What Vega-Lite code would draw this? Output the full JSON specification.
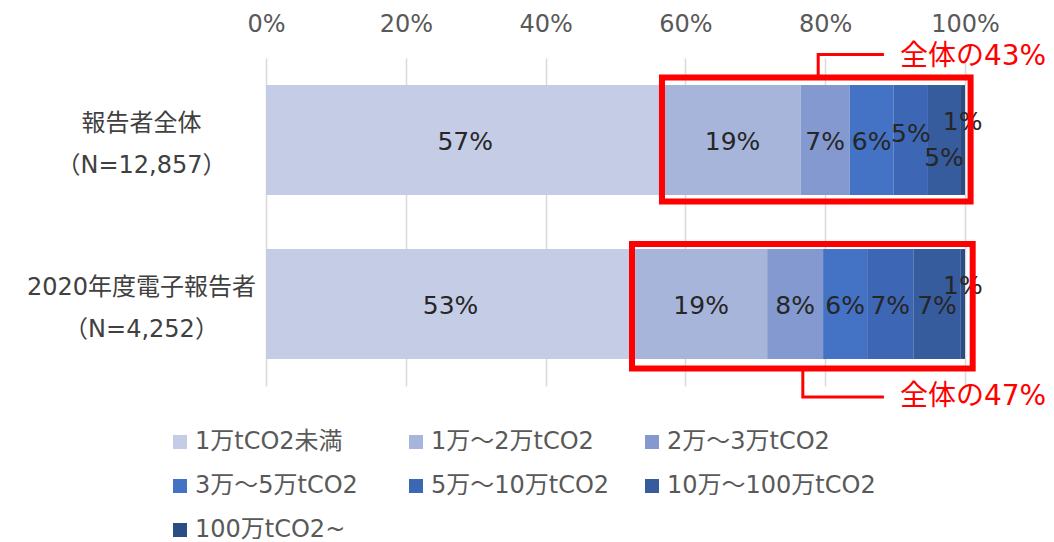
{
  "$schema": "https://vega.github.io/schema/vega-lite/v6.json",
  "autosize": {"type": "none"},
  "width": 699,
  "height": 328,
  "padding": {"left": 266, "top": 58, "right": 89, "bottom": 156},
  "background": "white",
  "config": {
    "font": "DejaVu Sans, Noto Sans CJK JP",
    "view": {"stroke": null}
  },
  "datasets": {
    "bars": [
      {"category": "報告者全体\n（N=12,857）", "series": "1万tCO2未満", "order": 1, "value": 57.0, "label": "57%"},
      {"category": "報告者全体\n（N=12,857）", "series": "1万～2万tCO2", "order": 2, "value": 19.5, "label": "19%"},
      {"category": "報告者全体\n（N=12,857）", "series": "2万～3万tCO2", "order": 3, "value": 7.0, "label": "7%"},
      {"category": "報告者全体\n（N=12,857）", "series": "3万～5万tCO2", "order": 4, "value": 6.3, "label": "6%"},
      {"category": "報告者全体\n（N=12,857）", "series": "5万～10万tCO2", "order": 5, "value": 4.9, "label": "5%"},
      {"category": "報告者全体\n（N=12,857）", "series": "10万～100万tCO2", "order": 6, "value": 4.6, "label": "5%"},
      {"category": "報告者全体\n（N=12,857）", "series": "100万tCO2~", "order": 7, "value": 0.7, "label": "1%"},
      {"category": "2020年度電子報告者\n（N=4,252）", "series": "1万tCO2未満", "order": 1, "value": 52.8, "label": "53%"},
      {"category": "2020年度電子報告者\n（N=4,252）", "series": "1万～2万tCO2", "order": 2, "value": 18.9, "label": "19%"},
      {"category": "2020年度電子報告者\n（N=4,252）", "series": "2万～3万tCO2", "order": 3, "value": 8.0, "label": "8%"},
      {"category": "2020年度電子報告者\n（N=4,252）", "series": "3万～5万tCO2", "order": 4, "value": 6.3, "label": "6%"},
      {"category": "2020年度電子報告者\n（N=4,252）", "series": "5万～10万tCO2", "order": 5, "value": 6.6, "label": "7%"},
      {"category": "2020年度電子報告者\n（N=4,252）", "series": "10万～100万tCO2", "order": 6, "value": 6.8, "label": "7%"},
      {"category": "2020年度電子報告者\n（N=4,252）", "series": "100万tCO2~", "order": 7, "value": 0.6, "label": "1%"}
    ],
    "boxes": [
      {"note": "a", "x": 56.65, "x2": 100.8, "u": 0.119, "u2": 0.875},
      {"note": "b", "x": 52.36, "x2": 101.1, "u": 1.134, "u2": 1.893}
    ],
    "leaders": [
      {"note": "a", "o": 1, "x": 79.0, "u": 0.119},
      {"note": "a", "o": 2, "x": 79.0, "u": -0.021},
      {"note": "a", "o": 3, "x": 88.4, "u": -0.021},
      {"note": "b", "o": 1, "x": 76.8, "u": 1.893},
      {"note": "b", "o": 2, "x": 76.8, "u": 2.067},
      {"note": "b", "o": 3, "x": 88.4, "u": 2.067}
    ],
    "callouts": [
      {"note": "a", "text": "全体の43%", "x": 90.7, "u": -0.005},
      {"note": "b", "text": "全体の47%", "x": 90.7, "u": 2.067}
    ]
  },
  "layer": [
    {
      "data": {"name": "bars"},
      "transform": [
        {"stack": "value", "groupby": ["category"], "sort": [{"field": "order", "order": "ascending"}], "as": ["x0", "x1"]},
        {"calculate": "(datum.x0 + datum.x1) / 2", "as": "xm"}
      ],
      "encoding": {
        "y": {
          "field": "category",
          "type": "nominal",
          "sort": null,
          "title": null,
          "scale": {"paddingInner": 0.33, "paddingOuter": 0.165},
          "axis": {
            "labelExpr": "split(datum.label, '\\n')",
            "labelAlign": "center",
            "labelBaseline": "middle",
            "labelPadding": 125,
            "labelOffset": -16,
            "labelFontSize": 24,
            "labelLineHeight": 42,
            "labelColor": "#404040",
            "labelLimit": 500,
            "ticks": false,
            "tickSize": 0,
            "domain": false,
            "grid": false
          }
        }
      },
      "layer": [
        {
          "mark": {"type": "bar"},
          "encoding": {
            "x": {
              "field": "x0",
              "type": "quantitative",
              "title": null,
              "scale": {"domain": [0, 100], "nice": false},
              "axis": {
                "orient": "top",
                "values": [0, 20, 40, 60, 80, 100],
                "labelExpr": "datum.value + '%'",
                "labelFontSize": 24,
                "labelColor": "#595959",
                "labelPadding": 22,
                "labelFlush": false,
                "labelOverlap": false,
                "ticks": false,
                "tickSize": 0,
                "domain": false,
                "grid": true,
                "gridColor": "#d9d9d9",
                "gridWidth": 1.5
              }
            },
            "x2": {"field": "x1"},
            "color": {
              "field": "series",
              "type": "nominal",
              "sort": null,
              "scale": {
                "domain": ["1万tCO2未満", "1万～2万tCO2", "2万～3万tCO2", "3万～5万tCO2", "5万～10万tCO2", "10万～100万tCO2", "100万tCO2~"],
                "range": ["#c5cde6", "#a8b5db", "#8399cf", "#4472c4", "#3d67b4", "#365c9e", "#2c4c86"]
              },
              "legend": {
                "orient": "none",
                "legendX": -98,
                "legendY": 372,
                "direction": "horizontal",
                "columns": 3,
                "title": null,
                "symbolType": "square",
                "symbolSize": 196,
                "symbolStrokeWidth": 0,
                "labelFontSize": 24,
                "labelColor": "#595959",
                "labelOffset": 3,
                "labelLimit": 400,
                "rowPadding": 20,
                "columnPadding": -4,
                "gridAlign": "all"
              }
            }
          }
        },
        {
          "transform": [{"filter": "datum.order !== 7 && !(indexof(datum.category, '報告者全体') === 0 && (datum.order === 5 || datum.order === 6))"}],
          "mark": {"type": "text", "fontSize": 25, "color": "#262626", "baseline": "middle", "align": "center", "dy": 2},
          "encoding": {
            "x": {"field": "xm", "type": "quantitative", "title": null, "scale": {"domain": [0, 100], "nice": false}},
            "text": {"field": "label"}
          }
        },
        {
          "transform": [{"filter": "indexof(datum.category, '報告者全体') === 0 && datum.order === 5"}],
          "mark": {"type": "text", "fontSize": 25, "color": "#262626", "baseline": "middle", "align": "center", "dy": -6},
          "encoding": {
            "x": {"field": "xm", "type": "quantitative", "title": null, "scale": {"domain": [0, 100], "nice": false}},
            "text": {"field": "label"}
          }
        },
        {
          "transform": [{"filter": "indexof(datum.category, '報告者全体') === 0 && datum.order === 6"}],
          "mark": {"type": "text", "fontSize": 25, "color": "#262626", "baseline": "middle", "align": "center", "dy": 18},
          "encoding": {
            "x": {"field": "xm", "type": "quantitative", "title": null, "scale": {"domain": [0, 100], "nice": false}},
            "text": {"field": "label"}
          }
        },
        {
          "transform": [{"filter": "datum.order === 7"}],
          "mark": {"type": "text", "fontSize": 25, "color": "#262626", "baseline": "middle", "align": "center", "dy": -18},
          "encoding": {
            "x": {"field": "xm", "type": "quantitative", "title": null, "scale": {"domain": [0, 100], "nice": false}},
            "text": {"field": "label"}
          }
        }
      ]
    },
    {
      "layer": [
        {
          "data": {"name": "boxes"},
          "mark": {"type": "rect", "filled": false, "color": "#ff0000", "strokeWidth": 6},
          "encoding": {
            "x": {"field": "x", "type": "quantitative", "title": null, "scale": {"domain": [0, 100], "nice": false}},
            "x2": {"field": "x2"},
            "y": {"field": "u", "type": "quantitative", "title": null, "axis": null, "scale": {"domain": [0, 2], "reverse": true, "nice": false, "zero": false}},
            "y2": {"field": "u2"}
          }
        },
        {
          "data": {"name": "leaders"},
          "mark": {"type": "line", "color": "#ff0000", "strokeWidth": 3, "strokeCap": "butt", "strokeJoin": "miter"},
          "encoding": {
            "x": {"field": "x", "type": "quantitative", "title": null, "scale": {"domain": [0, 100], "nice": false}},
            "y": {"field": "u", "type": "quantitative", "title": null, "axis": null, "scale": {"domain": [0, 2], "reverse": true, "nice": false, "zero": false}},
            "detail": {"field": "note"},
            "order": {"field": "o"}
          }
        },
        {
          "data": {"name": "callouts"},
          "mark": {"type": "text", "color": "#ff0000", "fontSize": 28, "align": "left", "baseline": "middle"},
          "encoding": {
            "x": {"field": "x", "type": "quantitative", "title": null, "scale": {"domain": [0, 100], "nice": false}},
            "y": {"field": "u", "type": "quantitative", "title": null, "axis": null, "scale": {"domain": [0, 2], "reverse": true, "nice": false, "zero": false}},
            "text": {"field": "text"}
          }
        }
      ]
    }
  ],
  "resolve": {"scale": {"y": "independent"}}
}
